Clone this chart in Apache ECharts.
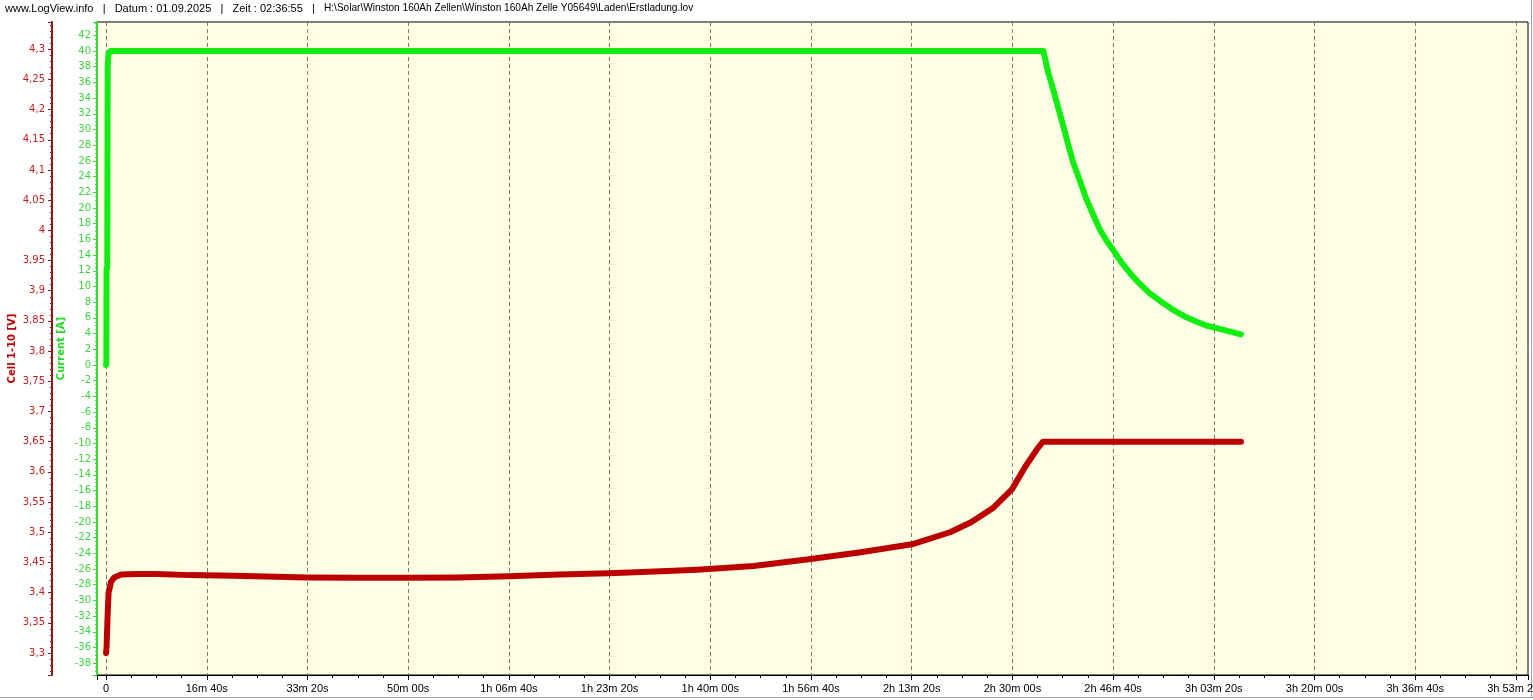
<!DOCTYPE html>
<html>
<head>
<meta charset="utf-8">
<script src="https://cdn.jsdelivr.net/npm/echarts@6/dist/echarts.min.js"></script>
<style>
html,body{margin:0;padding:0;background:#fff;}
#c{width:1533px;height:700px;}
</style>
</head>
<body>
<div id="c"></div>
<script>
// ---- data (time in seconds) ----
const titleHead = "www.LogView.info   |   Datum : 01.09.2025   |   Zeit : 02:36:55   |   ";
const titlePath = "H:\\Solar\\Winston 160Ah Zellen\\Winston 160Ah Zelle Y05649\\Laden\\Erstladung.lov";
const voltageName = "Cell 1-10 [V]";
const currentName = "Current [A]";

const currentTime = [0, 3, 5, 12, 16, 25, 45, 1000, 2000, 3000, 4000, 5000, 6000, 7000, 8000, 9000, 9308,
  9357, 9407, 9457, 9506, 9556, 9606, 9672, 9739, 9804, 9871, 9937, 10003, 10086, 10169, 10268, 10367,
  10484, 10599, 10716, 10831, 10931, 11030, 11162, 11270];
const currentValues = [0, 0.5, 12, 12.5, 38, 39.7, 40, 40, 40, 40, 40, 40, 40, 40, 40, 40, 40,
  37.2, 35.0, 32.7, 30.4, 28.0, 25.7, 23.4, 21.0, 19.1, 17.2, 15.8, 14.6, 13.0, 11.7, 10.3, 9.1,
  8.0, 7.0, 6.15, 5.5, 5.0, 4.7, 4.25, 3.9];

const voltageTime = [0, 5, 15, 25, 50, 80, 150, 300, 500, 834, 1271, 1996, 2500, 2979, 3500, 4002, 4500,
  4995, 5450, 5869, 6430, 6998, 7494, 8002, 8381, 8594, 8807, 8995, 9126, 9250, 9304, 10000, 11000, 11270];
const voltageValues = [3.30, 3.31, 3.36, 3.40, 3.418, 3.425, 3.43, 3.431, 3.431, 3.429, 3.428, 3.425, 3.4245, 3.4245, 3.425, 3.427, 3.43,
  3.432, 3.435, 3.438, 3.444, 3.4557, 3.467, 3.480, 3.500, 3.517, 3.540, 3.571, 3.608, 3.639, 3.650, 3.650, 3.650, 3.650];

// ---- helpers ----
function pad(n){return (n<10?'0':'')+n;}
function fmtTime(v){
  if (Math.abs(v/1000 - Math.round(v/1000)) > 1e-6) return '';
  const t = Math.round(v);
  if (t === 0) return '0';
  const h = Math.floor(t/3600), m = Math.floor((t%3600)/60), s = t%60;
  return h > 0 ? (h+'h '+pad(m)+'m '+pad(s)+'s') : (m+'m '+pad(s)+'s');
}
function fmtVolt(v){
  if (Math.abs(v*20 - Math.round(v*20)) > 1e-6) return '';
  return String(+v.toFixed(2)).replace('.', ',');
}
function fmtCurr(v){
  if (Math.abs(v/2 - Math.round(v/2)) > 1e-6) return '';
  return String(Math.round(v));
}
function pairs(xs, ys){ return xs.map((x,i)=>[x, ys[i]]); }

const chart = echarts.init(document.getElementById('c'), null, {renderer:'canvas'});
const red = '#BB0000', green = '#12EE12';
chart.setOption({
  animation: false,
  backgroundColor: '#ffffff',
  title: {
    text: '{a|' + titleHead + '}{b|' + titlePath + '}', left: 5, top: 3, padding: 0,
    textStyle: {
      fontFamily: 'Liberation Sans', fontSize: 11, fontWeight: 'normal', color: '#000',
      rich: {
        a: {fontFamily: 'Liberation Sans', fontSize: 11, color: '#000'},
        b: {fontFamily: 'Liberation Sans', fontSize: 10.1, color: '#000'}
      }
    }
  },
  grid: {
    left: 97, right: 5, top: 22, bottom: 25, show: true,
    outerBoundsMode: 'none', containLabel: false,
    backgroundColor: '#FFFFE6', borderColor: '#000', borderWidth: 1
  },
  xAxis: {
    type: 'value', min: -90, max: 14120, splitNumber: 14,
    axisLine: {show: true, onZero: false, lineStyle: {color: '#000', width: 1}},
    axisTick: {show: true, length: 5, lineStyle: {color: '#000'}},
    minorTick: {show: true, splitNumber: 4, length: 3, lineStyle: {color: '#000'}},
    splitLine: {show: true, lineStyle: {color: '#7a7a7a', type: [4, 3], width: 1}},
    axisLabel: {formatter: fmtTime, color: '#000', fontFamily: 'Liberation Sans', fontSize: 11, margin: 8}
  },
  yAxis: [
    {
      type: 'value', position: 'left', offset: 45,
      min: 3.2636, max: 4.345, splitNumber: 22,
      axisLine: {show: true, onZero: false, lineStyle: {color: '#8B1A1A', width: 2}},
      axisTick: {show: true, length: 4, lineStyle: {color: '#8B1A1A'}},
      minorTick: {show: true, splitNumber: 5, length: 2, lineStyle: {color: '#8B1A1A'}},
      splitLine: {show: false},
      axisLabel: {formatter: fmtVolt, color: '#C42020', fontFamily: 'DejaVu Sans', fontSize: 10, margin: 7},
      name: voltageName, nameLocation: 'middle', nameGap: 35, nameMoveOverlap: false,
      nameTextStyle: {color: '#C00000', fontFamily: 'DejaVu Sans', fontWeight: 'bold', fontSize: 10}
    },
    {
      type: 'value', position: 'left', offset: 0,
      min: -39.5, max: 43.7, splitNumber: 41,
      axisLine: {show: true, onZero: false, lineStyle: {color: '#33DD33', width: 2}},
      axisTick: {show: true, length: 4, lineStyle: {color: '#33DD33'}},
      minorTick: {show: true, splitNumber: 4, length: 2, lineStyle: {color: '#33DD33'}},
      splitLine: {show: false},
      axisLabel: {formatter: fmtCurr, color: '#3CD43C', fontFamily: 'DejaVu Sans', fontSize: 10, margin: 6},
      name: currentName, nameLocation: 'middle', nameGap: 31, nameMoveOverlap: false,
      nameTextStyle: {color: '#22DD22', fontFamily: 'DejaVu Sans', fontWeight: 'bold', fontSize: 10}
    }
  ],
  series: [
    {
      type: 'line', yAxisIndex: 0, data: pairs(voltageTime, voltageValues),
      showSymbol: false, symbol: 'none', clip: false, smooth: false,
      lineStyle: {color: red, width: 6, cap: 'round', join: 'round'}
    },
    {
      type: 'line', yAxisIndex: 1, data: pairs(currentTime, currentValues),
      showSymbol: false, symbol: 'none', clip: false, smooth: false,
      lineStyle: {color: green, width: 6, cap: 'round', join: 'round'}
    }
  ],
  graphic: [
    {type: 'line', shape: {x1: 0, y1: 697.5, x2: 1533, y2: 697.5}, style: {stroke: '#A0A0A0', lineWidth: 1}, silent: true},
    {type: 'line', shape: {x1: 1531.5, y1: 0, x2: 1531.5, y2: 698}, style: {stroke: '#A0A0A0', lineWidth: 1}, silent: true}
  ]
});
</script>
</body>
</html>
